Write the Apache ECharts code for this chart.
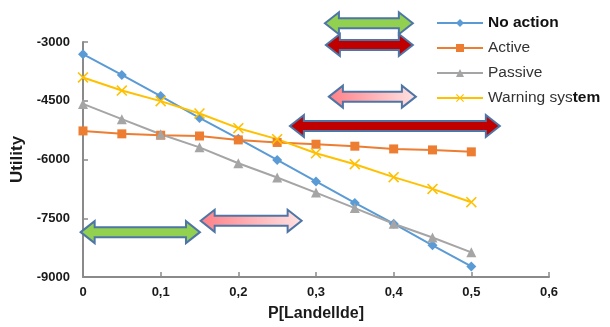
<!DOCTYPE html>
<html>
<head>
<meta charset="utf-8">
<script src="https://cdn.jsdelivr.net/npm/echarts@6/dist/echarts.min.js"></script>
<style>
  html, body { margin: 0; padding: 0; background: #fff; }
  #chart { width: 610px; height: 327px; }
</style>
</head>
<body>
<div id="chart"></div>
<script>
// Probability of landslide (x) and utility of each strategy
const pLandslide = [0, 0.05, 0.1, 0.15, 0.2, 0.25, 0.3, 0.35, 0.4, 0.45, 0.5];
const noAction   = [-3310, -3840, -4380, -4940, -5470, -6010, -6560, -7110, -7640, -8190, -8730];
const active     = [-5270, -5345, -5380, -5400, -5500, -5565, -5610, -5660, -5730, -5755, -5805];
const passive    = [-4580, -4970, -5355, -5690, -6095, -6460, -6845, -7240, -7640, -7990, -8370];
const warning    = [-3905, -4240, -4510, -4825, -5200, -5480, -5840, -6120, -6450, -6750, -7090];

const seriesNames = ['No action', 'Active', 'Passive', 'Warning system'];
const yTicks = { min: -9000, max: -3000, step: 1500 };
const xTicks = { min: 0, max: 0.6, step: 0.1 };

// Range arrows: [from P, to P, utility level, fill]
const rangeArrows = [
  [0.3115, 0.4247, -2523, 'green'],
  [0.3127, 0.4247, -3077, 'red'],
  [0.3166, 0.4286, -4395, 'pink'],
  [0.2664, 0.5367, -5143, 'red'],
  [-0.003, 0.1506, -7855, 'green'],
  [0.1515, 0.2815, -7566, 'pink']
];

const pairs = arr => pLandslide.map((p, i) => [p, arr[i]]);
const crossPath = 'path://M0,1L1,0L5,4L9,0L10,1L6,5L10,9L9,10L5,6L1,10L0,9L4,5Z';

const chart = echarts.init(document.getElementById('chart'), null, { renderer: 'canvas' });

const axisGray = '#8a8a8a';
const labelFont = { fontFamily: 'Liberation Sans, Arial, sans-serif', fontWeight: 'bold', color: '#1a1a1a' };

function mkSeries(name, data, color, symbol, size) {
  return {
    name: name,
    type: 'line',
    data: pairs(data),
    symbol: symbol,
    symbolSize: size,
    showAllSymbol: true,
    lineStyle: { color: color, width: 2 },
    itemStyle: { color: color },
    emphasis: { disabled: true },
    animation: false
  };
}

chart.setOption({
  animation: false,
  grid: { left: 83, right: 61, top: 42, bottom: 50, outerBoundsMode: 'none' },
  legend: {
    orient: 'vertical',
    left: 431,
    top: 10,
    itemWidth: 46,
    itemHeight: 10,
    itemGap: 9,
    data: seriesNames,
    textStyle: {
      fontFamily: 'Liberation Sans, Arial, sans-serif',
      fontSize: 15.5,
      color: '#333',
      rich: {
        b: { fontWeight: 'bold', fontSize: 15.5, color: '#111', fontFamily: 'Liberation Sans, Arial, sans-serif' },
        n: { fontSize: 15.5, color: '#333', fontFamily: 'Liberation Sans, Arial, sans-serif' }
      }
    },
    formatter: function (name) {
      if (name === 'No action') return '{b|No action}';
      if (name === 'Warning system') return '{n|Warning sys}{b|tem}';
      return '{n|' + name + '}';
    }
  },
  xAxis: {
    type: 'value',
    min: xTicks.min,
    max: xTicks.max,
    interval: xTicks.step,
    name: 'P[Landellde]',
    nameLocation: 'middle',
    nameGap: 29,
    nameTextStyle: Object.assign({ fontSize: 16 }, labelFont),
    axisLine: { show: true, lineStyle: { color: axisGray, width: 2 } },
    axisTick: { show: true, inside: true, length: 5, lineStyle: { color: axisGray, width: 1.5 } },
    splitLine: { show: false },
    axisLabel: Object.assign({
      fontSize: 13,
      margin: 9,
      formatter: v => (Math.round(v * 10) / 10).toString().replace('.', ',')
    }, labelFont)
  },
  yAxis: {
    type: 'value',
    min: yTicks.min,
    max: yTicks.max,
    interval: yTicks.step,
    name: 'Utility',
    nameLocation: 'middle',
    nameGap: 54,
    nameTextStyle: Object.assign({ fontSize: 17 }, labelFont),
    axisLine: { show: true, lineStyle: { color: axisGray, width: 2 } },
    axisTick: { show: true, inside: true, length: 5, lineStyle: { color: axisGray, width: 1.5 } },
    splitLine: { show: false },
    axisLabel: Object.assign({ fontSize: 13, margin: 13, formatter: v => String(Math.round(v)) }, labelFont)
  },
  series: [
    mkSeries('No action', noAction, '#5b9bd5', 'diamond', 10),
    mkSeries('Active', active, '#ed7d31', 'rect', 9),
    mkSeries('Passive', passive, '#a5a5a5', 'triangle', 10),
    mkSeries('Warning system', warning, '#ffc000', crossPath, 11)
  ]
});

// Double-headed block arrows placed in data space
const fills = {
  green: '#92d050',
  red: '#c00000',
  pink: { type: 'linear', x: 0, y: 0, x2: 1, y2: 0,
          colorStops: [{ offset: 0, color: '#ff7f86' }, { offset: 1, color: '#ffe3e3' }] }
};
const H = 22, S = 10, HD = 14;
const arrowGraphics = rangeArrows.map(function (a) {
  const p0 = chart.convertToPixel({ gridIndex: 0 }, [a[0], a[2]]);
  const p1 = chart.convertToPixel({ gridIndex: 0 }, [a[1], a[2]]);
  const x0 = p0[0], x1 = p1[0], cy = p0[1];
  return {
    type: 'polygon',
    z: 100,
    shape: {
      points: [
        [x0, cy], [x0 + HD, cy - H / 2], [x0 + HD, cy - S / 2], [x1 - HD, cy - S / 2],
        [x1 - HD, cy - H / 2], [x1, cy], [x1 - HD, cy + H / 2], [x1 - HD, cy + S / 2],
        [x0 + HD, cy + S / 2], [x0 + HD, cy + H / 2]
      ]
    },
    style: { fill: fills[a[3]], stroke: '#4d76a6', lineWidth: 2 }
  };
});
chart.setOption({ graphic: arrowGraphics });
</script>
</body>
</html>
